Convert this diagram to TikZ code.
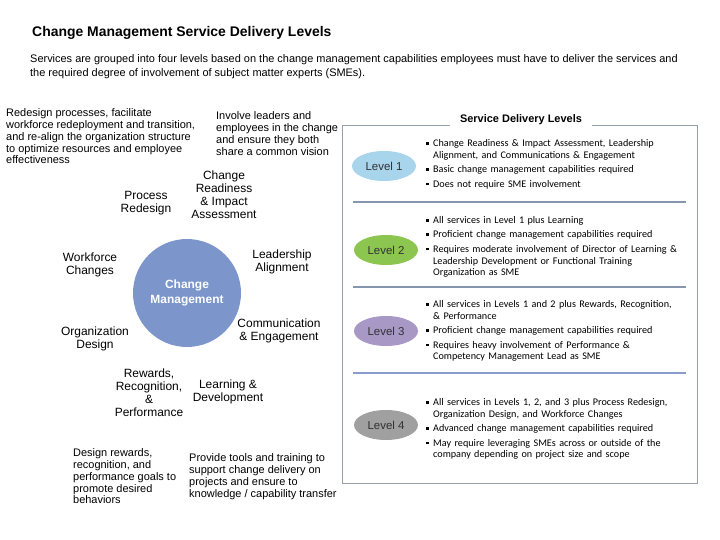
\documentclass[tikz,border=0pt]{standalone}
\usepackage{fontspec}
\setmainfont{Liberation Sans}
\newfontfamily\calib{Carlito}
\usetikzlibrary{shapes.geometric}
\definecolor{cmblue}{RGB}{124,150,203}
\definecolor{lvone}{RGB}{168,212,236}
\definecolor{lvtwo}{RGB}{140,198,80}
\definecolor{lvthree}{RGB}{168,152,198}
\definecolor{lvfour}{RGB}{160,160,160}
\definecolor{framecol}{RGB}{150,160,170}
\definecolor{sepcol}{RGB}{135,150,175}
\definecolor{sepcolb}{RGB}{140,155,205}
\definecolor{lvtext}{RGB}{50,50,50}
\newcommand{\bitem}[1]{\par\hangindent=7bp\hangafter=1\noindent\makebox[7bp][l]{\rule[2bp]{2.5bp}{2.5bp}}#1\par}
\begin{document}
\begin{tikzpicture}[x=1bp,y=-1bp,
  toptitle/.style={anchor=base west,inner sep=0,font=\bfseries\fontsize{14}{16}\selectfont},
  subtext/.style={anchor=north west,inner sep=0,align=left,font=\fontsize{11}{14}\selectfont},
  desc/.style={anchor=north west,inner sep=0,align=left,font=\fontsize{11}{12}\selectfont},
  lbl/.style={anchor=north,inner sep=0,align=center,font=\fontsize{12}{13}\selectfont},
  hub/.style={circle,fill=cmblue,minimum size=108bp,inner sep=0,align=center,text=white,font=\bfseries\fontsize{12}{14.5}\selectfont},
  lvl/.style={ellipse,minimum width=64bp,minimum height=30bp,inner sep=0,text=lvtext,font=\fontsize{11.5}{13}\selectfont},
  blist/.style={anchor=north west,inner sep=0,text width=270bp,font=\calib\fontsize{10.2}{11.8}\selectfont},
  panelframe/.style={draw=framecol,line width=1bp},
  panelsep/.style={draw=sepcol,line width=2.4bp},
  paneltitle/.style={fill=white,inner xsep=10bp,inner ysep=4bp,font=\bfseries\fontsize{11}{12}\selectfont}
]
\useasboundingbox (0,0) rectangle (720,540);

% header
\node[toptitle] (title) at (32,37) {Change Management Service Delivery Levels};
\node[subtext] (sub) at (30,54) {Services are grouped into four levels based on the change management capabilities employees must have to deliver the services and\\the required degree of involvement of subject matter experts (SMEs).};

% left: wheel
\node[hub] (cm) at (187,293) {Change\\Management};
\node[lbl] (pr) at (146,191) {Process\\Redesign};
\node[lbl] (cr) at (224,171) {Change\\Readiness\\\& Impact\\Assessment};
\node[lbl] (wc) at (90,253) {Workforce\\Changes};
\node[lbl] (la) at (282,250) {Leadership\\Alignment};
\node[lbl] (od) at (95,327) {Organization\\Design};
\node[lbl] (ce) at (279,319) {Communication\\\& Engagement};
\node[lbl] (rr) at (149,369) {Rewards,\\Recognition,\\\&\\Performance};
\node[lbl] (ld) at (228,380) {Learning \&\\Development};

\node[desc] (d1) at (6,108) {Redesign processes, facilitate\\workforce redeployment and transition,\\and re-align the organization structure\\to optimize resources and employee\\effectiveness};
\node[desc] (d2) at (216,111) {Involve leaders and\\employees in the change\\and ensure they both\\share a common vision};
\node[desc] (d3) at (73,448) {Design rewards,\\recognition, and\\performance goals to\\promote desired\\behaviors};
\node[desc] (d4) at (189,453) {Provide tools and training to\\support change delivery on\\projects and ensure to\\knowledge / capability transfer};

% right: levels panel
\draw[panelframe] (342,126) rectangle (697,483);
\node[paneltitle] (ptitle) at (521,120) {Service Delivery Levels};
\draw[panelsep] (353,202) -- (686,202);
\draw[panelsep] (353,287) -- (686,287);
\draw[panelsep,draw=sepcolb] (353,373) -- (686,373);

\node[lvl,fill=lvone] (l1) at (384,166) {Level 1};
\node[lvl,fill=lvtwo] (l2) at (386,250) {Level 2};
\node[lvl,fill=lvthree] (l3) at (386,331) {Level 3};
\node[lvl,fill=lvfour] (l4) at (386,425) {Level 4};

\node[blist] (b1) at (426,132) {\setlength{\parskip}{2.6bp}%
\bitem{Change Readiness \& Impact Assessment, Leadership\newline Alignment, and Communications \& Engagement}
\bitem{Basic change management capabilities required}
\bitem{Does not require SME involvement}};
\node[blist] (b2) at (426,209) {\setlength{\parskip}{2.6bp}%
\bitem{All services in Level 1 plus Learning}
\bitem{Proficient change management capabilities required}
\bitem{Requires moderate involvement of Director of Learning \&\newline Leadership Development or Functional Training\newline Organization as SME}};
\node[blist] (b3) at (426,293) {\setlength{\parskip}{2.6bp}%
\bitem{All services in Levels 1 and 2 plus Rewards, Recognition,\newline \& Performance}
\bitem{Proficient change management capabilities required}
\bitem{Requires heavy involvement of Performance \&\newline Competency Management Lead as SME}};
\node[blist] (b4) at (426,391) {\setlength{\parskip}{2.6bp}%
\bitem{All services in Levels 1, 2, and 3 plus Process Redesign,\newline Organization Design, and Workforce Changes}
\bitem{Advanced change management capabilities required}
\bitem{May require leveraging SMEs across or outside of the\newline company depending on project size and scope}};
\end{tikzpicture}
\end{document}
